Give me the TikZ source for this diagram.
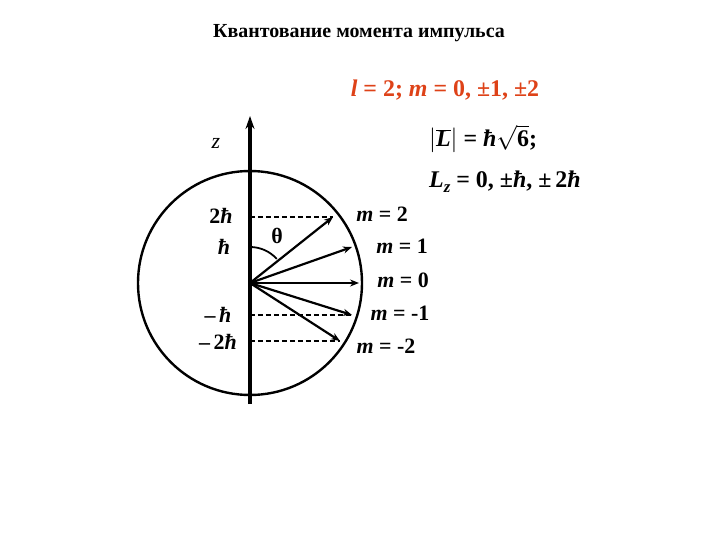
\documentclass[tikz,border=0pt]{standalone}
\usepackage{fontspec}
\setmainfont{Liberation Serif}
\usetikzlibrary{arrows.meta,positioning}
\definecolor{redtext}{RGB}{222,66,24}

\tikzset{
  lbl/.style={font=\fontsize{22}{24}\selectfont\bfseries, inner sep=1pt},
  big/.style={font=\fontsize{24}{26}\selectfont\bfseries, inner sep=1pt},
  vec/.style={->, line width=2.2pt},
  level/.style={dashed, line width=1.1pt, dash pattern=on 5pt off 3pt},
}

\begin{document}
\begin{tikzpicture}[x=1bp, y=-1bp, >={Stealth[length=9pt,width=7pt]}]
\useasboundingbox (0,0) rectangle (720,540);
% title and quantum numbers
\node (title) at (359,33) {\fontsize{20}{22}\selectfont\bfseries Квантование момента импульса};
\node[big, text=redtext] (nums) at (445,90) {\itshape l\upshape{} = 2; \itshape m\upshape{} = 0, ±1, ±2};
\node[big, anchor=west] (Lmod) at (428,139) {$\left|\overline{\hbox{\bfseries\itshape L}}\right|$ = {\itshape ħ}$\sqrt{\hbox{\bfseries 6}}$;};
\node[big, anchor=west] (Lz) at (428,182) {{\itshape L}\raisebox{-5pt}{\fontsize{17}{18}\selectfont\itshape z} = 0, ±{\itshape ħ}, ±\,2{\itshape ħ}};

% sphere and axis
\coordinate (O) at (250,283);
\coordinate (zbot) at (250,404);
\coordinate (ztop) at (250,116);
\draw[line width=2.4pt] (O) circle (112);
\draw[-{Stealth[length=13pt,width=9pt]}, line width=4pt] (zbot) -- (ztop);
\node[font=\fontsize{22}{24}\selectfont\itshape] (z) at (216,143) {z};

% vector tips
\foreach \name/\x/\y in {m2/333/217, m1/352/247, m0/359/283, mm1/352/315, mm2/340/341}
  \coordinate (\name) at (\x,\y);
\foreach \name in {m2, m1, m0, mm1, mm2}
  \draw[vec] (O) -- (\name);

% projections
\draw[level] (O |- m2) -- (m2);
\draw[level] (O |- mm1) -- (mm1);
\draw[level] (O |- mm2) -- (mm2);

% angle
\draw[line width=1.8pt] (250,247) arc (-90:-42:36);
\node[lbl] (theta) at (277,236) {θ};

% projection values
\node[lbl] (h2) at (221,216) {2{\itshape ħ}};
\node[lbl] (h1) at (224,247) {\itshape ħ};
\node[lbl] (hm1) at (218,315) {–\,{\itshape ħ}};
\node[lbl] (hm2) at (218,342) {–\,2{\itshape ħ}};

% magnetic numbers
\node[lbl] (lm2) at (382,214) {{\itshape m} = 2};
\node[lbl] (lm1) at (402,246) {{\itshape m} = 1};
\node[lbl] (lm0) at (403,280) {{\itshape m} = 0};
\node[lbl] (lmm1) at (400,313) {{\itshape m} = -1};
\node[lbl] (lmm2) at (386,346) {{\itshape m} = -2};
\end{tikzpicture}
\end{document}
